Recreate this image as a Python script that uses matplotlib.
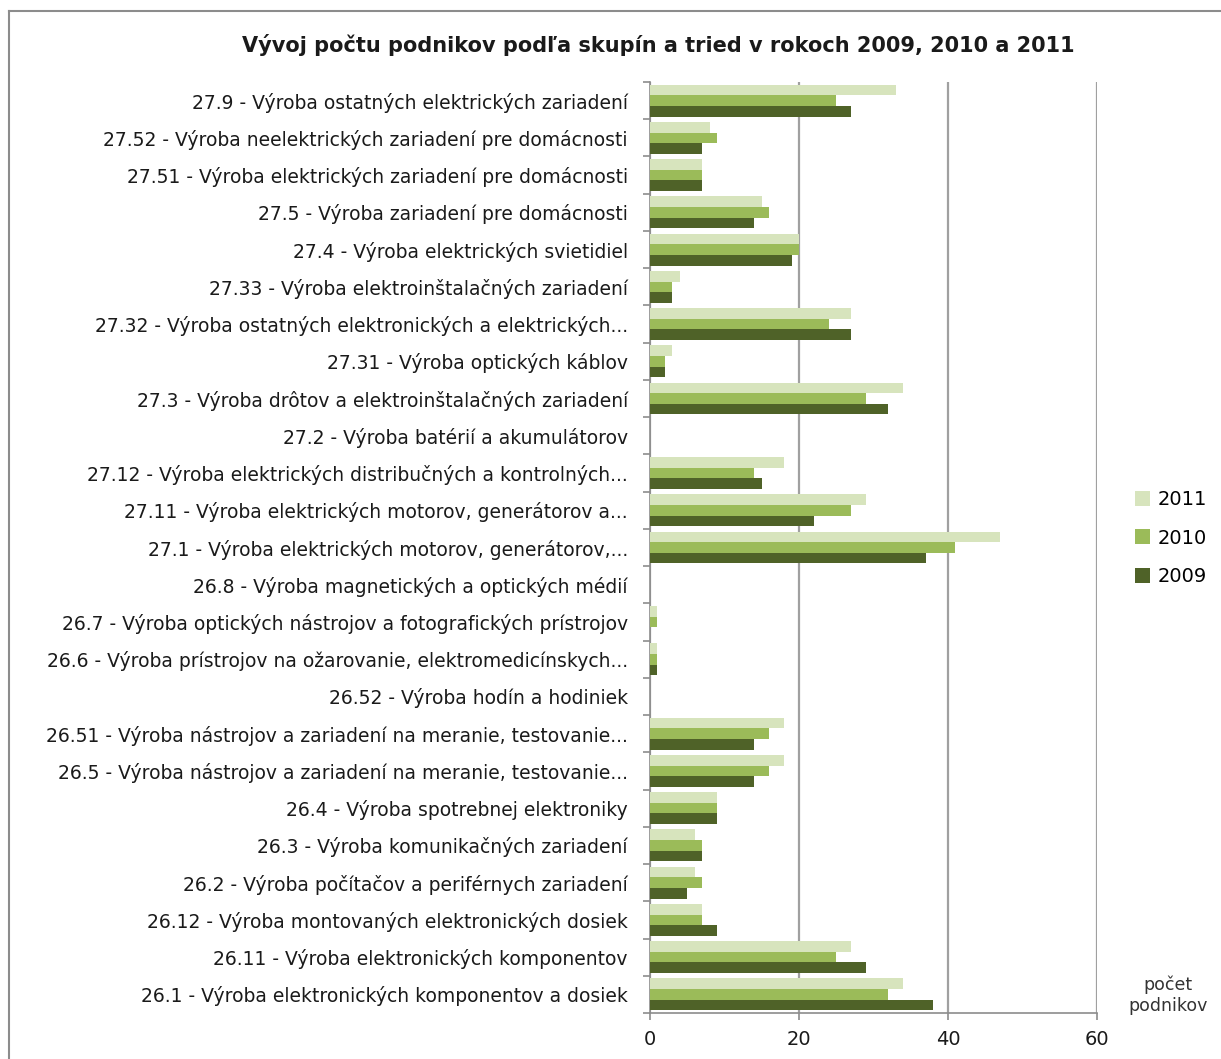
"""Vývoj počtu podnikov podľa skupín a tried v rokoch 2009, 2010 a 2011."""

import matplotlib

matplotlib.use("Agg")
import matplotlib.pyplot as plt
import numpy as np
from matplotlib.lines import Line2D

categories = [
    "27.9 - Výroba ostatných elektrických zariadení",
    "27.52 - Výroba neelektrických zariadení pre domácnosti",
    "27.51 - Výroba elektrických zariadení pre domácnosti",
    "27.5 - Výroba zariadení pre domácnosti",
    "27.4 - Výroba elektrických svietidiel",
    "27.33 - Výroba elektroinštalačných zariadení",
    "27.32 - Výroba ostatných elektronických a elektrických...",
    "27.31 - Výroba optických káblov",
    "27.3 - Výroba drôtov a elektroinštalačných zariadení",
    "27.2 - Výroba batérií a akumulátorov",
    "27.12 - Výroba elektrických distribučných a kontrolných...",
    "27.11 - Výroba elektrických motorov, generátorov a...",
    "27.1 - Výroba elektrických motorov, generátorov,...",
    "26.8 - Výroba magnetických a optických médií",
    "26.7 - Výroba optických nástrojov a fotografických prístrojov",
    "26.6 - Výroba prístrojov na ožarovanie, elektromedicínskych...",
    "26.52 - Výroba hodín a hodiniek",
    "26.51 - Výroba nástrojov a zariadení na meranie, testovanie...",
    "26.5 - Výroba nástrojov a zariadení na meranie, testovanie...",
    "26.4 - Výroba spotrebnej elektroniky",
    "26.3 - Výroba komunikačných zariadení",
    "26.2 - Výroba počítačov a periférnych zariadení",
    "26.12 - Výroba montovaných elektronických dosiek",
    "26.11 - Výroba elektronických komponentov",
    "26.1 - Výroba elektronických komponentov a dosiek",
]

values_2011 = [33, 8, 7, 15, 20, 4, 27, 3, 34, 0, 18, 29, 47, 0, 1, 1, 0, 18, 18, 9, 6, 6, 7, 27, 34]
values_2010 = [25, 9, 7, 16, 20, 3, 24, 2, 29, 0, 14, 27, 41, 0, 1, 1, 0, 16, 16, 9, 7, 7, 7, 25, 32]
values_2009 = [27, 7, 7, 14, 19, 3, 27, 2, 32, 0, 15, 22, 37, 0, 0, 1, 0, 14, 14, 9, 7, 5, 9, 29, 38]

years = ["2011", "2010", "2009"]
colors = ["#d7e4bd", "#9bbb59", "#4f6228"]

fig = plt.figure(figsize=(12.21, 10.59), dpi=100)
ax = fig.add_axes([650 / 1221, 1 - 1013 / 1059, 447 / 1221, 931 / 1059])

y = np.arange(len(categories))
h = 0.285
for offset, vals, col, year in zip((-h, 0, h), (values_2011, values_2010, values_2009),
                                   colors, years):
    ax.barh(y + offset, vals, height=h, color=col, linewidth=0, label=year, zorder=3)

ax.set_xlim(0, 60)
ax.set_ylim(len(categories) - 0.5, -0.5)
ax.set_xticks([0, 20, 40, 60])
ax.tick_params(axis="x", labelsize=14, colors="#8c8c8c", labelcolor="#1a1a1a",
               length=5, width=1.2, pad=7)

ax.set_yticks(np.arange(len(categories) + 1) - 0.5)
ax.set_yticklabels([])
ax.set_yticks(y, minor=True)
ax.set_yticklabels(categories, minor=True)
ax.tick_params(axis="y", which="major", length=5, width=1.2, colors="#8c8c8c")
ax.tick_params(axis="y", which="minor", length=0, pad=16, labelsize=13.5,
               labelcolor="#1a1a1a")

ax.grid(axis="x", color="#a0a0a0", linewidth=1.6, zorder=0)
for side in ("top", "right"):
    ax.spines[side].set_visible(False)
for side in ("left", "bottom"):
    ax.spines[side].set_color("#8c8c8c")
    ax.spines[side].set_linewidth(1.2)

fig.text(0.539, 1 - 45 / 1059, "Vývoj počtu podnikov podľa skupín a tried v rokoch 2009, 2010 a 2011",
         ha="center", va="center", fontsize=15, fontweight="bold", color="#1a1a1a")

ax.legend(loc="center left", bbox_to_anchor=(1.045, 0.51), frameon=False, fontsize=14,
          handlelength=0.8, handleheight=0.8, handletextpad=0.4, labelspacing=1.0)

fig.text(1168 / 1221, 1 - 995 / 1059, "počet\npodnikov", ha="center", va="center",
         fontsize=12.5, color="#333333", linespacing=1.2)

# outer chart frame (only top and left edges visible in the crop)
fig.add_artist(Line2D([9 / 1221, 1.0], [1 - 11 / 1059] * 2, color="#8c8c8c", linewidth=1.5))
fig.add_artist(Line2D([9 / 1221] * 2, [0.0, 1 - 11 / 1059], color="#8c8c8c", linewidth=1.5))

fig.savefig("out.png", dpi=100)
plt.close(fig)
